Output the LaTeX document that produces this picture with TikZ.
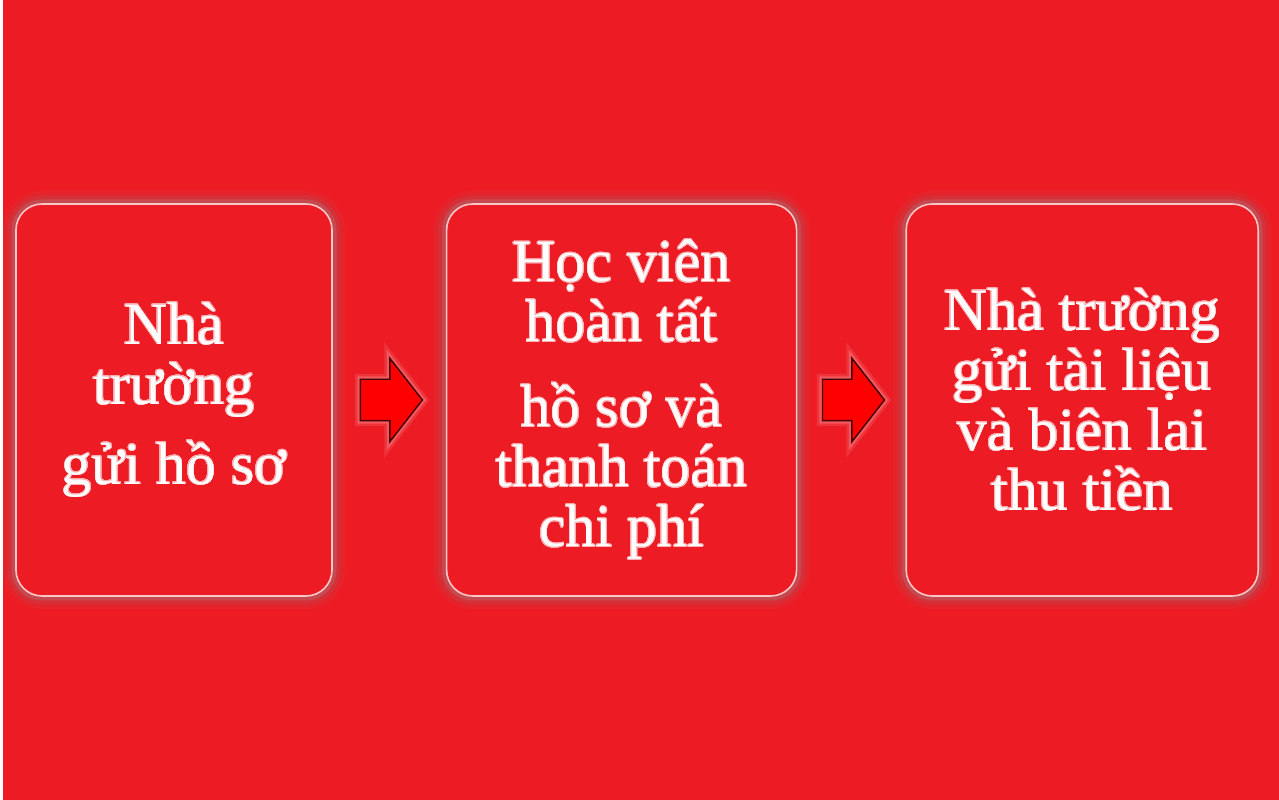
\documentclass[tikz,border=0pt]{standalone}
\usepackage{fontspec}
\setmainfont{Liberation Serif}
\usepackage{contour}
\usetikzlibrary{positioning, shapes.arrows}
\definecolor{slidered}{HTML}{ED1C24}
\definecolor{arrowred}{HTML}{FF0000}
\contourlength{0.7pt}
\contournumber{24}
\newcommand{\glowline}[1]{\contour{white!65!slidered}{#1}}

\begin{document}
\setlength{\lineskiplimit}{-100pt}
\begin{tikzpicture}[x=1pt, y=1pt,
    stepbox/.style={draw=white!75!slidered, line width=1.6pt, rounded corners=26pt,
      fill=slidered, minimum height=392pt, align=center, text=white, inner sep=0pt,
      font=\fontsize{60}{60}\selectfont,
      preaction={draw=gray, line width=26pt, opacity=0.08},
      preaction={draw=gray, line width=17pt, opacity=0.14},
      preaction={draw=gray!80!white, line width=9pt, opacity=0.25}},
    flowarrow/.style={single arrow, draw=black!75!red, line width=1.4pt, fill=arrowred,
      inner sep=0pt, text height=20pt, text depth=20pt,
      minimum height=62pt, minimum width=82pt,
      single arrow head extend=21pt, single arrow tip angle=104, xshift=-6pt,
      preaction={draw=white, line width=11pt, opacity=0.1},
      preaction={draw=white, line width=6pt, opacity=0.18}}]
  \useasboundingbox (0,0) rectangle (1279,800);
  \fill[white] (0,0) rectangle (3,800);
  \fill[slidered] (3,0) rectangle (1279,800);
  \node[stepbox, minimum width=316pt] (b1) at (174,400)
    {\glowline{Nhà}\\ \glowline{trường}\\[20pt] \glowline{gửi hồ sơ}};
  \node[stepbox, minimum width=350pt, right=113pt of b1] (b2)
    {\glowline{Học viên}\\ \glowline{hoàn tất}\\[25pt] \glowline{hồ sơ và}\\
     \glowline{thanh toán}\\ \glowline{chi phí}};
  \node[stepbox, minimum width=352pt, right=108pt of b2] (b3)
    {\glowline{Nhà trường}\\ \glowline{gửi tài liệu}\\ \glowline{và biên lai}\\
     \glowline{thu tiền}};
  \path (b1) -- (b2) node[midway, flowarrow] (a1) {};
  \path (b2) -- (b3) node[midway, flowarrow] (a2) {};
\end{tikzpicture}
\end{document}
